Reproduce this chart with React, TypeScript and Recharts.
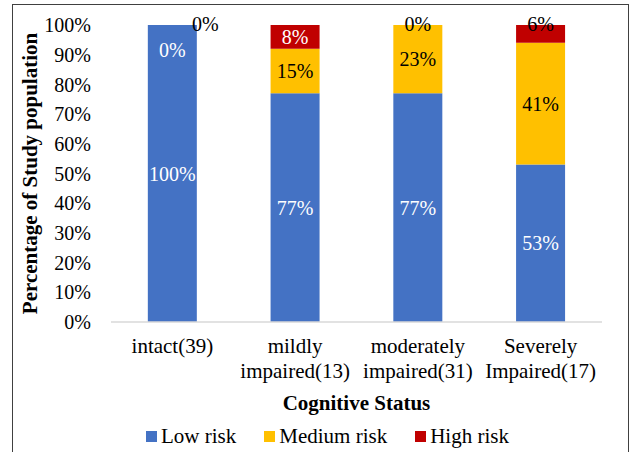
import React from "react";
import { BarChart, Bar, XAxis, YAxis, LabelList, Legend } from "recharts";

// risk share (%) per cognitive status group
const categories = [
  "intact(39)",
  "mildly impaired(13)",
  "moderately impaired(31)",
  "Severely Impaired(17)",
];
const lowRisk = [100, 77, 77, 53];
const mediumRisk = [0, 15, 23, 41];
const highRisk = [0, 8, 0, 6];
const yTicks = [0, 10, 20, 30, 40, 50, 60, 70, 80, 90, 100];

const data = categories.map((name, i) => ({
  name,
  low: lowRisk[i],
  medium: mediumRisk[i],
  high: highRisk[i],
}));

const FONT = '"Liberation Serif", "Times New Roman", serif';
const BLUE = "#4472C4";
const YELLOW = "#FFC000";
const RED = "#C00000";

const legendItems = [
  { label: "Low risk", color: BLUE },
  { label: "Medium risk", color: YELLOW },
  { label: "High risk", color: RED },
];

// label lists skip empty segments, so pass the category index along
const categoryIndex = (entry: any) => categories.indexOf(entry?.payload?.name);

// category names wrap on the space, like the original axis
const CategoryTick = (props: any) => {
  const { x, y, payload } = props;
  const lines = String(payload.value).split(" ");
  return (
    <text x={x} y={y} textAnchor="middle" fontFamily={FONT} fontSize={21} fill="#000">
      {lines.map((line, i) => (
        <tspan key={i} x={x} dy={i === 0 ? 31 : 25}>
          {line}
        </tspan>
      ))}
    </text>
  );
};

const valueText = (key: string, cx: number, cy: number, fill: string, value: number) => (
  <text
    key={key}
    x={cx}
    y={cy}
    dy="0.35em"
    textAnchor="middle"
    fontFamily={FONT}
    fontSize={20}
    fill={fill}
  >
    {value}%
  </text>
);

// zero-height segments get no rectangle, so the segment below
// also draws the 0% labels of the empty segments stacked on it
const renderLabel = (series: "low" | "medium" | "high") => (props: any) => {
  const vb = props.viewBox ?? props;
  const x = Number(vb.x);
  const w = Number(vb.width);
  const h0 = Number(vb.height) || 0;
  const top = h0 < 0 ? Number(vb.y) + h0 : Number(vb.y);
  const h = Math.abs(h0);
  const i = Number(props.value);
  if (!(i >= 0)) return null;
  const cx = x + w / 2;
  const out: React.ReactNode[] = [];

  if (series === "low") {
    out.push(valueText("own", cx, top + h / 2, "#fff", lowRisk[i]));
    if (mediumRisk[i] === 0) {
      out.push(valueText("mid0", cx, top + 25, "#fff", mediumRisk[i]));
      if (highRisk[i] === 0) out.push(valueText("high0", cx + 33, top - 1, "#000", highRisk[i]));
    }
  }
  if (series === "medium") {
    out.push(valueText("own", cx, top + h / 2, "#000", mediumRisk[i]));
    if (highRisk[i] === 0) out.push(valueText("high0", cx, top - 1, "#000", highRisk[i]));
  }
  if (series === "high") {
    if (h < 20) out.push(valueText("own", cx, top - 1, "#000", highRisk[i]));
    else out.push(valueText("own", cx, top + h / 2, "#fff", highRisk[i]));
  }
  return <g>{out}</g>;
};

const RiskLegend = () => (
  <div style={{ display: "flex", alignItems: "center", fontFamily: FONT, fontSize: 21, color: "#000" }}>
    {legendItems.map((item, i) => (
      <div key={item.label} style={{ display: "flex", alignItems: "center", marginLeft: i === 0 ? 0 : 28 }}>
        <span style={{ width: 11, height: 11, background: item.color, marginRight: 4, display: "inline-block" }} />
        <span style={{ lineHeight: "24px" }}>{item.label}</span>
      </div>
    ))}
  </div>
);

export default function App() {
  return (
    <div style={{ position: "absolute", top: 0, left: 0, width: 633, height: 452, background: "#fff", overflow: "hidden" }}>
      <div
        style={{
          position: "absolute",
          left: 12,
          top: 4,
          width: 617,
          height: 470,
          border: "1.5px solid #404040",
          boxSizing: "border-box",
        }}
      />
      <BarChart
        width={633}
        height={452}
        data={data}
        margin={{ top: 25, right: 31, left: 0, bottom: 35 }}
        barCategoryGap="30%"
        style={{ position: "absolute", top: 0, left: 0 }}
      >
        <XAxis
          dataKey="name"
          interval={0}
          height={95}
          tickLine={false}
          tickSize={0}
          tickMargin={0}
          axisLine={{ stroke: "#d9d9d9", strokeWidth: 1.5 }}
          tick={<CategoryTick />}
          label={{
            value: "Cognitive Status",
            position: "insideBottom",
            offset: 7,
            style: { fontFamily: FONT, fontSize: 21, fontWeight: "bold", fill: "#000" },
          }}
        />
        <YAxis
          width={111}
          domain={[0, 100]}
          ticks={yTicks}
          tickFormatter={(v) => `${v}%`}
          axisLine={false}
          tickLine={false}
          tickSize={0}
          tickMargin={20}
          tick={{ fontFamily: FONT, fontSize: 20, fill: "#000" }}
          label={{
            value: "Percentage of Study population",
            angle: -90,
            position: "insideLeft",
            offset: 30,
            style: { textAnchor: "middle", fontFamily: FONT, fontSize: 21, fontWeight: "bold", fill: "#000" },
          }}
        />
        <Legend
          layout="horizontal"
          verticalAlign="middle"
          align="center"
          content={<RiskLegend />}
          wrapperStyle={{ left: 146, top: 424, bottom: "auto", width: "auto", height: "auto" }}
        />
        <Bar dataKey="low" name="Low risk" stackId="risk" fill={BLUE} isAnimationActive={false}>
          <LabelList valueAccessor={categoryIndex} content={renderLabel("low")} />
        </Bar>
        <Bar dataKey="medium" name="Medium risk" stackId="risk" fill={YELLOW} isAnimationActive={false}>
          <LabelList valueAccessor={categoryIndex} content={renderLabel("medium")} />
        </Bar>
        <Bar dataKey="high" name="High risk" stackId="risk" fill={RED} isAnimationActive={false}>
          <LabelList valueAccessor={categoryIndex} content={renderLabel("high")} />
        </Bar>
      </BarChart>
    </div>
  );
}
